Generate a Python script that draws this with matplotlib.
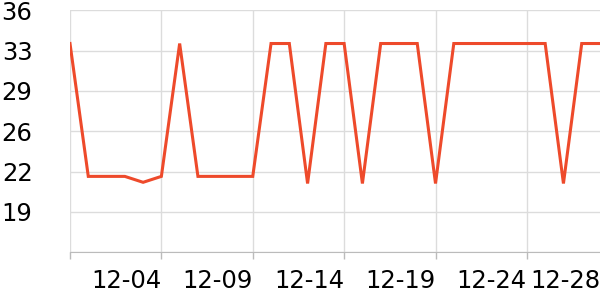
import numpy as np
import matplotlib.pyplot as plt

dates = ["11-29", "11-30", "12-01", "12-02", "12-03", "12-04", "12-05", "12-06",
         "12-07", "12-08", "12-09", "12-10", "12-11", "12-12", "12-13", "12-14",
         "12-15", "12-16", "12-17", "12-18", "12-19", "12-20", "12-21", "12-22",
         "12-23", "12-24", "12-25", "12-26", "12-27", "12-28"]
values = [33.2, 22.0, 22.0, 22.0, 21.5, 22.0, 33.2, 22.0, 22.0, 22.0,
          22.0, 33.2, 33.2, 21.4, 33.2, 33.2, 21.4, 33.2, 33.2, 33.2,
          21.4, 33.2, 33.2, 33.2, 33.2, 33.2, 33.2, 21.4, 33.2, 33.2]
y_ticks = [15.6, 19.0, 22.4, 25.8, 29.2, 32.6, 36.0]
y_labels = ["", "19", "22", "26", "29", "33", "36"]
label_idx = [5, 10, 15, 20, 25, 29]
grid_idx = [0, 5, 10, 15, 20, 25]

line_color = "#ee4a2b"
grid_color = "#dcdcdc"

fig = plt.figure(figsize=(6, 3), dpi=100)
ax = fig.add_axes([70 / 600, (300 - 252.3) / 300, 530 / 600, (252.3 - 10.3) / 300])

x = np.arange(len(dates))
ax.plot(x, values, color=line_color, linewidth=2.2, solid_joinstyle="miter", zorder=3)

ax.set_xlim(0, len(dates) - 1)
ax.set_ylim(y_ticks[0], y_ticks[-1])

# y axis: grid only, no tick marks
ax.set_yticks(y_ticks)
ax.set_yticklabels(y_labels)
ax.tick_params(axis="y", length=0, pad=27, labelsize=17.5)
ax.grid(axis="y", color=grid_color, linewidth=1)

# x axis: labels right-aligned at their positions, ticks + grid every 5 days
ax.xaxis.remove_overlapping_locs = False
ax.set_xticks(label_idx)
ax.set_xticklabels([dates[i] for i in label_idx], ha="right")
ax.tick_params(axis="x", which="major", length=0, pad=12, labelsize=17.5)
ax.set_xticks(grid_idx, minor=True)
ax.tick_params(axis="x", which="minor", length=5, color="#bbbbbb", width=1)
ax.grid(axis="x", which="minor", color=grid_color, linewidth=1)

for s in ["top", "right", "left"]:
    ax.spines[s].set_visible(False)
ax.spines["bottom"].set_color("#bbbbbb")
ax.set_axisbelow(True)

plt.savefig("out.png", dpi=100)
